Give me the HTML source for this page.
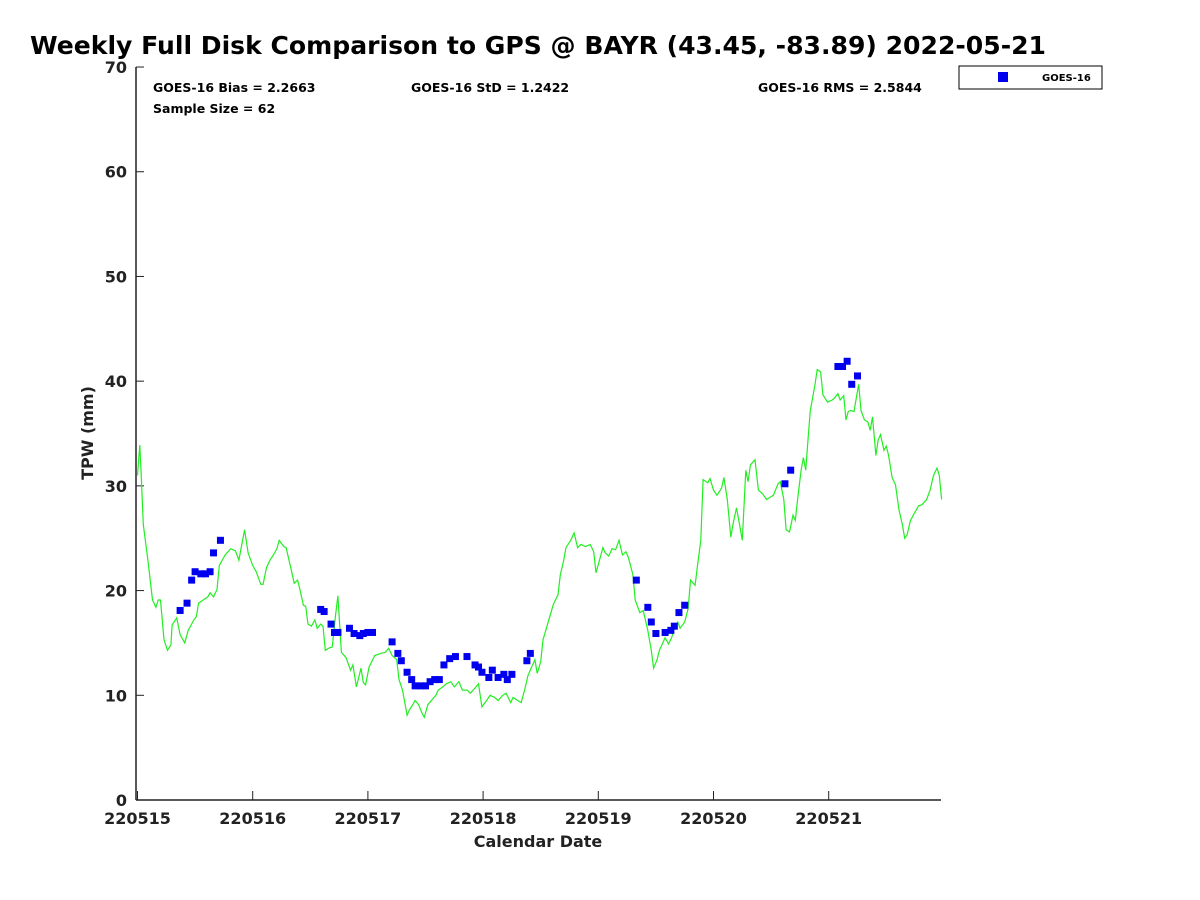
<!DOCTYPE html>
<html><head><meta charset="utf-8"><style>
body{margin:0;background:#fff;}
svg{display:block;font-family:"DejaVu Sans","Liberation Sans",sans-serif;font-weight:bold;}
</style></head><body>
<svg id="chart" width="1200" height="900" viewBox="0 0 1200 900" xmlns="http://www.w3.org/2000/svg">
<rect width="1200" height="900" fill="#fff"/>
<text x="30" y="54" font-size="24.5" fill="#000" textLength="1016" lengthAdjust="spacingAndGlyphs">Weekly Full Disk Comparison to GPS @ BAYR (43.45, -83.89) 2022-05-21</text>
<g id="axes"></g>
<g id="series"></g>
<text x="153" y="92" font-size="12.5">GOES-16 Bias = 2.2663</text>
<text x="153" y="113" font-size="12.5">Sample Size = 62</text>
<text x="411" y="92" font-size="12.5">GOES-16 StD = 1.2422</text>
<text x="758" y="92" font-size="12.5">GOES-16 RMS = 2.5844</text>
<g>
<rect x="959" y="66" width="143" height="23" fill="#fff" stroke="#000" stroke-width="1"/>
<rect x="998" y="72" width="10" height="10" fill="#0000ee"/>
<text x="1042" y="81" font-size="10">GOES-16</text>
</g>
<text x="538" y="847" font-size="16" text-anchor="middle" fill="#222">Calendar Date</text>
<text transform="translate(93,433) rotate(-90)" font-size="16" text-anchor="middle" fill="#222">TPW (mm)</text>
</svg>
<script>
const xTickLabels = ["220515","220516","220517","220518","220519","220520","220521"];
const yTicks = [0,10,20,30,40,50,60,70];
const gpsDays = [0.00,0.02,0.03,0.05,0.09,0.13,0.16,0.18,0.20,0.23,0.26,0.29,0.30,0.34,0.37,0.41,0.44,0.49,0.51,0.53,0.57,0.61,0.63,0.66,0.69,0.71,0.76,0.81,0.85,0.88,0.90,0.93,0.96,1.00,1.03,1.07,1.09,1.12,1.15,1.18,1.21,1.23,1.27,1.29,1.33,1.36,1.39,1.41,1.44,1.46,1.48,1.51,1.54,1.56,1.59,1.61,1.63,1.66,1.69,1.72,1.74,1.77,1.81,1.85,1.87,1.90,1.94,1.96,1.98,2.01,2.06,2.11,2.15,2.18,2.21,2.25,2.27,2.30,2.34,2.36,2.39,2.41,2.44,2.47,2.49,2.52,2.55,2.59,2.61,2.65,2.68,2.72,2.75,2.79,2.82,2.86,2.89,2.93,2.96,2.99,3.03,3.06,3.10,3.13,3.17,3.20,3.24,3.26,3.30,3.33,3.36,3.39,3.43,3.45,3.47,3.50,3.52,3.57,3.61,3.65,3.67,3.70,3.72,3.76,3.79,3.82,3.85,3.89,3.93,3.96,3.98,4.01,4.04,4.06,4.09,4.12,4.15,4.18,4.21,4.24,4.26,4.30,4.32,4.36,4.39,4.43,4.46,4.48,4.51,4.53,4.56,4.58,4.61,4.64,4.66,4.69,4.71,4.75,4.78,4.80,4.84,4.86,4.89,4.91,4.95,4.97,5.00,5.03,5.07,5.09,5.12,5.15,5.17,5.20,5.22,5.25,5.28,5.30,5.32,5.36,5.39,5.43,5.46,5.49,5.52,5.56,5.58,5.61,5.63,5.66,5.69,5.71,5.73,5.76,5.78,5.80,5.82,5.84,5.88,5.90,5.93,5.95,5.99,6.03,6.05,6.08,6.10,6.13,6.15,6.17,6.19,6.22,6.24,6.26,6.28,6.31,6.34,6.36,6.38,6.41,6.43,6.45,6.48,6.50,6.52,6.55,6.58,6.61,6.64,6.66,6.68,6.71,6.74,6.78,6.81,6.85,6.88,6.91,6.94,6.96,6.98];
const gpsTpw = [31.0,33.9,31.5,26.3,22.9,19.1,18.4,19.1,19.1,15.3,14.3,14.8,16.7,17.4,15.8,15.0,16.2,17.2,17.5,18.8,19.1,19.4,19.8,19.4,20.1,22.4,23.4,24.0,23.8,22.9,24.1,25.8,23.6,22.4,21.8,20.6,20.6,22.2,22.9,23.4,24.0,24.8,24.2,24.1,22.2,20.7,21.0,20.1,18.6,18.5,16.8,16.6,17.2,16.4,16.8,16.6,14.3,14.5,14.6,17.7,19.5,14.1,13.6,12.4,12.9,10.8,12.6,11.2,11.0,12.7,13.8,14.0,14.1,14.5,13.8,13.4,11.5,10.5,8.1,8.6,9.1,9.5,9.1,8.3,7.9,9.1,9.5,10.0,10.5,10.8,11.1,11.3,10.8,11.3,10.5,10.5,10.2,10.7,11.1,8.9,9.5,10.0,9.8,9.5,10.0,10.2,9.3,9.8,9.5,9.3,10.5,11.9,12.9,13.4,12.1,13.2,15.3,17.2,18.7,19.6,21.5,22.9,24.1,24.8,25.5,24.1,24.4,24.2,24.4,23.7,21.7,22.9,24.1,23.6,23.3,24.0,23.9,24.8,23.4,23.7,23.2,21.5,19.1,17.9,18.1,16.2,14.3,12.6,13.4,14.3,15.0,15.5,14.9,15.6,16.5,17.0,16.4,17.0,18.3,21.0,20.5,22.3,24.8,30.6,30.3,30.7,29.6,29.1,29.8,30.8,28.7,25.1,26.4,27.9,26.7,24.8,31.5,30.4,32.0,32.5,29.6,29.2,28.7,28.9,29.1,30.2,30.4,28.7,25.8,25.6,27.2,26.7,28.7,31.5,32.7,31.5,34.4,37.2,39.6,41.1,40.9,38.7,38.0,38.2,38.4,38.8,38.2,38.6,36.3,37.1,37.2,37.1,38.4,39.7,37.2,36.3,36.1,35.3,36.6,32.9,34.4,34.9,33.4,33.8,32.9,30.8,30.1,27.7,26.3,25.0,25.3,26.7,27.3,28.1,28.2,28.7,29.6,31.0,31.7,31.0,28.7];
const goesDays = [0.37,0.43,0.47,0.50,0.55,0.59,0.63,0.66,0.72,1.59,1.62,1.68,1.71,1.74,1.84,1.88,1.93,1.96,2.00,2.04,2.21,2.26,2.29,2.34,2.38,2.41,2.46,2.50,2.54,2.58,2.62,2.66,2.71,2.76,2.86,2.93,2.96,2.99,3.05,3.08,3.13,3.18,3.21,3.25,3.38,3.41,4.33,4.43,4.46,4.50,4.58,4.63,4.66,4.70,4.75,5.62,5.67,6.08,6.12,6.16,6.20,6.25];
const goesTpw = [18.1,18.8,21.0,21.8,21.6,21.6,21.8,23.6,24.8,18.2,18.0,16.8,16.0,16.0,16.4,15.9,15.7,15.9,16.0,16.0,15.1,14.0,13.3,12.2,11.5,10.9,10.9,10.9,11.3,11.5,11.5,12.9,13.5,13.7,13.7,12.9,12.7,12.2,11.7,12.4,11.7,12.0,11.5,12.0,13.3,14.0,21.0,18.4,17.0,15.9,16.0,16.2,16.6,17.9,18.6,30.2,31.5,41.4,41.4,41.9,39.7,40.5];

const NS='http://www.w3.org/2000/svg';
const X0=137.5, DAY=115.2, Y0=800, YPX=10.471;
function xs(d){return X0+d*DAY;}
function ys(v){return Y0-v*YPX;}
function mk(tag,attrs,parent){const e=document.createElementNS(NS,tag);for(const k in attrs)e.setAttribute(k,attrs[k]);parent.appendChild(e);return e;}
const axes=document.getElementById('axes');
const series=document.getElementById('series');

const yAxis=mk('line',{x1:136,y1:ys(70),x2:136,y2:Y0,stroke:'#222','stroke-width':1.5},axes);


const xAxis=mk('line',{x1:136,y1:Y0,x2:941,y2:Y0,stroke:'#222','stroke-width':1.5},axes);



yTicks.forEach(v=>{
  const t=mk('line',{x1:136,y1:ys(v),x2:144,y2:ys(v),stroke:'#222','stroke-width':1},axes);
  
  
  const l=mk('text',{x:127,y:ys(v)+6,'font-size':16,'text-anchor':'end',fill:'#222'},axes);
  l.textContent=v;
  
  
});
xTickLabels.forEach((s,i)=>{
  const t=mk('line',{x1:xs(i),y1:Y0,x2:xs(i),y2:Y0-9,stroke:'#222','stroke-width':1},axes);
  
  
  const l=mk('text',{x:xs(i),y:824,'font-size':16,'text-anchor':'middle',fill:'#222'},axes);
  l.textContent=s;
  
  
});

const pts=gpsDays.map((d,i)=>xs(d).toFixed(1)+','+ys(gpsTpw[i]).toFixed(1)).join(' ');
const line=mk('polyline',{points:pts,fill:'none',stroke:'#22ee22','stroke-width':1.2},series);



goesDays.forEach((d,i)=>{
  const r=mk('rect',{x:xs(d)-3.5,y:ys(goesTpw[i])-3.5,width:7,height:7,fill:'#0000ee'},series);
  
  
});
</script>
</body></html>
